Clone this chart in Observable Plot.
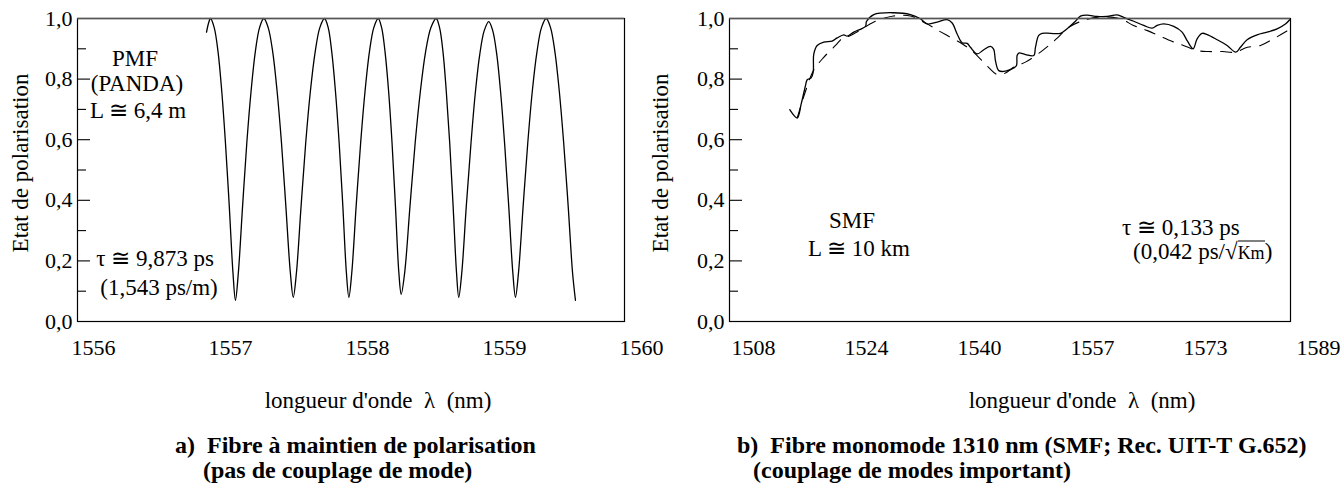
<!DOCTYPE html>
<html><head><meta charset="utf-8">
<script src="https://cdn.jsdelivr.net/npm/d3@7"></script>
<script src="https://cdn.jsdelivr.net/npm/@observablehq/plot@0.6"></script>
<style>
body{margin:0;background:#fff;}
#wrap{position:relative;width:1344px;height:486px;font-family:"Liberation Serif","Times New Roman",serif;color:#000;overflow:hidden;}
#wrap svg{position:absolute;top:0;}
.abs{position:absolute;white-space:nowrap;line-height:1;}
.c{transform:translate(-50%,-50%);}
.l{transform:translate(0,-50%);}
.t{font-size:23px;}
.rot{transform:translate(-50%,-50%) rotate(-90deg);font-size:23px;}
.cap{font-size:24px;font-weight:bold;transform:translate(0,-50%);}
.km{font-size:18px;border-top:1.3px solid #000;padding-top:1px;}
</style></head>
<body><div id="wrap"></div>
<script>
// ---------- data: a) PMF (PANDA) ----------
const pmfWavelength = [1556.825,1556.840,1556.854,1556.881,1556.909,1556.936,1556.963,1556.991,1557.018,1557.036,
1557.057,1557.088,1557.119,1557.150,1557.181,1557.212,1557.243,1557.275,1557.308,1557.340,1557.372,1557.404,1557.437,1557.458,
1557.481,1557.515,1557.549,1557.583,1557.618,1557.652,1557.686,1557.713,1557.739,1557.766,1557.793,1557.820,1557.846,1557.864,
1557.885,1557.917,1557.950,1557.982,1558.014,1558.046,1558.078,1558.103,1558.128,1558.154,1558.179,1558.204,1558.229,1558.246,
1558.271,1558.310,1558.348,1558.386,1558.424,1558.463,1558.501,1558.526,1558.551,1558.575,1558.600,1558.625,1558.650,1558.666,
1558.688,1558.721,1558.754,1558.786,1558.819,1558.852,1558.885,1558.914,1558.944,1558.973,1559.002,1559.031,1559.061,1559.080,
1559.102,1559.136,1559.170,1559.203,1559.237,1559.270,1559.304,1559.336,1559.368,1559.400,1559.432,1559.465,1559.497,1559.518];
const pmfState = [0.955,0.985,1.00,0.97,0.89,0.76,0.59,0.38,0.16,0.07,
0.16,0.38,0.59,0.76,0.89,0.97,1.00,0.97,0.89,0.76,0.59,0.38,0.16,0.08,
0.16,0.38,0.59,0.76,0.89,0.97,1.00,0.97,0.89,0.76,0.59,0.38,0.16,0.08,
0.16,0.38,0.59,0.76,0.89,0.97,1.00,0.97,0.89,0.76,0.59,0.38,0.16,0.09,
0.16,0.38,0.59,0.76,0.89,0.97,1.00,0.97,0.89,0.76,0.59,0.38,0.16,0.08,
0.16,0.38,0.58,0.75,0.88,0.96,0.99,0.96,0.88,0.75,0.58,0.38,0.16,0.08,
0.16,0.38,0.59,0.76,0.89,0.97,1.00,0.97,0.89,0.76,0.59,0.38,0.16,0.07];

// ---------- data: b) SMF, measured (solid) ----------
const smfWavelength = [1513.20,1514.27,1514.84,1515.46,1515.70,1516.27,1516.56,1516.65,1517.13,1518.08,1519.28,1520.00,1520.95,1521.43,
1522.38,1524.06,1524.20,1525.25,1528.11,1530.51,1531.94,1532.90,1534.34,1535.77,1536.49,1537.20,1537.92,1538.64,1539.11,1540.07,
1541.02,1541.98,1542.45,1542.70,1543.17,1544.13,1545.32,1545.71,1545.80,1546.04,1547.00,1548.19,1548.43,1548.90,1549.39,1550.58,
1552.01,1552.97,1554.16,1554.88,1555.84,1557.28,1558.71,1560.14,1561.09,1562.52,1563.96,1565.16,1565.88,1566.82,1568.26,1569.46,
1570.18,1571.04,1571.61,1572.33,1573.05,1574.48,1575.91,1577.15,1577.82,1578.78,1580.22,1581.65,1583.08,1584.27,1584.89];
const smfState = [0.699,0.672,0.718,0.779,0.798,0.804,0.823,0.883,0.911,0.922,0.925,0.936,0.946,0.942,
0.955,0.974,0.990,1.013,1.019,1.013,0.999,0.982,0.988,0.996,0.985,0.949,0.920,0.918,0.905,0.883,
0.897,0.908,0.898,0.860,0.828,0.826,0.837,0.845,0.878,0.886,0.881,0.878,0.905,0.944,0.951,0.951,
0.951,0.966,0.991,1.008,1.011,1.007,1.007,1.012,1.004,0.991,0.977,0.968,0.977,0.982,0.974,0.955,
0.927,0.900,0.933,0.951,0.947,0.930,0.911,0.889,0.905,0.930,0.946,0.955,0.966,0.982,0.996];

// ---------- data: b) SMF, smoothed (dashed) ----------
const smfFitWavelength = [1514.27,1515.46,1516.60,1518.04,1519.76,1520.90,1521.62,1523.34,1525.20,1528.07,1530.51,1532.66,1534.52,
1536.24,1537.96,1539.54,1541.69,1542.98,1544.13,1545.28,1547.00,1549.43,1551.30,1553.16,1554.88,1557.75,1560.62,1562.48,1564.49,
1566.07,1568.07,1569.65,1571.66,1573.23,1575.24,1577.11,1578.83,1580.70,1582.56,1584.57];
const smfFitState = [0.672,0.760,0.828,0.871,0.911,0.938,0.941,0.962,0.988,1.008,1.008,0.985,0.960,
0.938,0.916,0.889,0.839,0.815,0.820,0.839,0.856,0.894,0.930,0.970,0.990,1.005,0.999,0.977,0.960,
0.944,0.924,0.911,0.894,0.891,0.891,0.889,0.905,0.911,0.933,0.960];

// ---------- axes ----------
const yTickValues = [0, 0.2, 0.4, 0.6, 0.8, 1.0];
const yTickLabels = ["0,0", "0,2", "0,4", "0,6", "0,8", "1,0"];
const yMajorTicks = [0.2, 0.4, 0.6, 0.8];
const yMinorTicks = [0.1, 0.3, 0.5, 0.7, 0.9];
const xTicksA = [1556, 1557, 1558, 1559, 1560];
const xTickLabelsA = ["1556", "1557", "1558", "1559", "1560"];
const xTicksB = [1508, 1524.2, 1540.4, 1556.6, 1572.8, 1589];
const xTickLabelsB = ["1508", "1524", "1540", "1557", "1573", "1589"];

const FONT = '"Liberation Serif","Times New Roman",serif';

function panel({width, mL, mR, xDomain, xTicks, xLabels, series}) {
  const frameW = width - mL - mR;
  return Plot.plot({
    width, height: 400,
    marginLeft: mL, marginRight: mR, marginTop: 18, marginBottom: 79,
    x: {domain: xDomain},
    y: {domain: [0, 1]},
    axis: null,
    style: {fontFamily: FONT, fontSize: "22px", color: "#000", background: "none", overflow: "visible"},
    marks: [
      Plot.ruleY(yMajorTicks, {y: d => d, insetRight: frameW - 13, stroke: "#000", strokeWidth: 1.1}),
      Plot.ruleY(yMinorTicks, {y: d => d, insetRight: frameW - 9, stroke: "#000", strokeWidth: 1.1}),
      Plot.text(yTickValues, {y: d => d, text: (d, i) => yTickLabels[i], frameAnchor: "left", textAnchor: "end", dx: -5, fontSize: 22}),
      Plot.text(xTicks, {x: d => d, text: (d, i) => xLabels[i], frameAnchor: "bottom", dy: 33, fontSize: 22}),
      ...series,
      Plot.frame({stroke: "#000", strokeWidth: 1.2}),
      Plot.ruleY([1], {stroke: "#555", strokeWidth: 1.4})
    ]
  });
}

const pmf = pmfWavelength.map((x, i) => ({x, y: pmfState[i]}));
const smf = smfWavelength.map((x, i) => ({x, y: smfState[i]}));
const smfFit = smfFitWavelength.map((x, i) => ({x, y: smfFitState[i]}));

const wrap = document.getElementById("wrap");

const A = panel({
  width: 672, mL: 77, mR: 48,
  xDomain: [1555.883, 1559.876], xTicks: xTicksA, xLabels: xTickLabelsA,
  series: [Plot.line(pmf, {x: "x", y: "y", curve: "catmull-rom", stroke: "#000", strokeWidth: 1.3})]
});
A.style.left = "0px";
wrap.appendChild(A);

const B = panel({
  width: 704, mL: 89, mR: 54,
  xDomain: [1504.56, 1585.0], xTicks: xTicksB, xLabels: xTickLabelsB,
  series: [
    Plot.line(smfFit, {x: "x", y: "y", curve: "catmull-rom", stroke: "#000", strokeWidth: 1.1, strokeDasharray: "11,9"}),
    Plot.line(smf, {x: "x", y: "y", curve: "catmull-rom", stroke: "#000", strokeWidth: 1.3})
  ]
});
B.style.left = "640px";
wrap.appendChild(B);

// ---------- texts ----------
const texts = [
  '<div class="abs rot" style="left:20px;top:163px">Etat de polarisation</div>',
  '<div class="abs rot" style="left:660px;top:163px">Etat de polarisation</div>',
  '<div class="abs t c" style="left:135px;top:58px">PMF</div>',
  '<div class="abs t c" style="left:137px;top:83px">(PANDA)</div>',
  '<div class="abs t c" style="left:138px;top:110px">L ≅ 6,4 m</div>',
  '<div class="abs t c" style="left:155px;top:258px">τ ≅ 9,873 ps</div>',
  '<div class="abs t c" style="left:159px;top:287px">(1,543 ps/m)</div>',
  '<div class="abs t c" style="left:852px;top:220px">SMF</div>',
  '<div class="abs t c" style="left:859px;top:248px">L ≅ 10 km</div>',
  '<div class="abs t l" style="left:1122px;top:227px">τ ≅ 0,133 ps</div>',
  '<div class="abs t l" style="left:1133px;top:251px">(0,042 ps/√<span class="km">Km</span>)</div>',
  '<div class="abs t c" style="left:378px;top:400px">longueur d\'onde &nbsp;λ &nbsp;(nm)</div>',
  '<div class="abs t c" style="left:1082px;top:400px">longueur d\'onde &nbsp;λ &nbsp;(nm)</div>',
  '<div class="abs cap" style="left:175px;top:445px">a) &nbsp;Fibre à maintien de polarisation</div>',
  '<div class="abs cap" style="left:203px;top:470px">(pas de couplage de mode)</div>',
  '<div class="abs cap" style="left:737px;top:445px">b) &nbsp;Fibre monomode 1310 nm (SMF; Rec. UIT-T G.652)</div>',
  '<div class="abs cap" style="left:753px;top:470px">(couplage de modes important)</div>'
];
wrap.insertAdjacentHTML("beforeend", texts.join(""));
</script>
</body></html>
